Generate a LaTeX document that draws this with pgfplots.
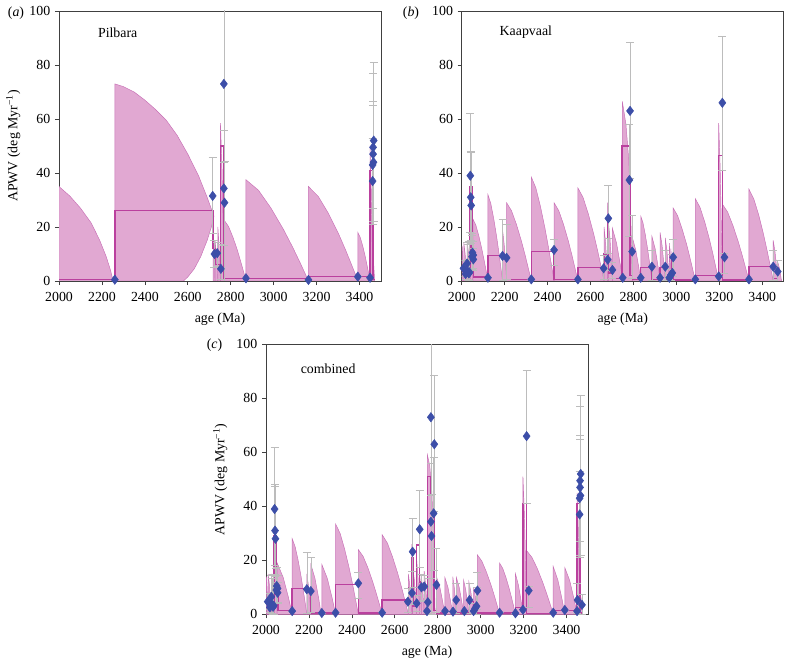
\documentclass[border=0pt]{standalone}
\usepackage{fontspec}
\setmainfont{Liberation Serif}
\usepackage{pgfplots}
\pgfplotsset{compat=1.18}
\usepackage{pgfplotstable}
\definecolor{finfill}{RGB}{225,168,210}
\definecolor{finedge}{RGB}{200,112,182}
\definecolor{stepc}{RGB}{186,64,158}
\definecolor{dia}{RGB}{60,78,168}
\definecolor{errc}{RGB}{188,188,188}
\newcommand{\fs}{\fontsize{10.4}{12.5}\selectfont}
\newcommand{\fin}[1]{\addplot[fin] coordinates {#1} \closedcycle;}
\pgfplotsset{
 panel/.style={scale only axis, width=241.5pt, height=202.5pt, anchor=south west,
  xmin=2000, xmax=3500, ymin=0, ymax=100,
  xtick={2000,2200,...,3400}, ytick={0,20,...,100},
  tick align=outside, xtick pos=left, ytick pos=left, major tick length=3pt,
  axis line style={black!75, line width=0.5pt},
  every tick/.style={black!75, line width=0.5pt},
  ticklabel style={font=\fs}, label style={font=\fs},
  xticklabel style={yshift=-2pt},
  xlabel style={yshift=-1.5pt},
  /pgf/number format/assume math mode=true, /pgf/number format/1000 sep={},
  xlabel={age (Ma)}},
 fin/.style={fill=finfill, draw=finedge, line width=0.35pt, forget plot, mark=none},
 stepl/.style={const plot, draw=stepc, line width=1.05pt, forget plot, mark=none},
 errs/.style={forget plot, draw=none, mark=none, error bars/.cd, y dir=both, y explicit,
  error bar style={draw=errc, line width=0.4pt},
  error mark options={draw=errc, rotate=90, mark size=3pt, line width=0.4pt}},
 dias/.style={forget plot, only marks, mark=diamond*, mark size=3.5pt, mark options={fill=dia, draw=dia}},
}
\pgfplotstableread{
x y ep em
2260 0.5 0 0
2716 31.5 14.5 14
2724 10 5 5
2737 10.3 4 5
2754 4.5 9 4
2768 73 30 29
2768 34.3 21.7 21
2771 29 15.5 29
2871 1 0 0
3162 0.4 0 0
3392 1.6 0 0
3449 1.2 0 0
3461 37 16 16
3461 43 10 21
3465 44 21 23
3463 47 19.5 20
3463 49.5 27.5 27.5
3466 52 29 30
}\pilbara
\pgfplotstableread{
x y ep em
2008 4.7 3 3
2018 2.6 2 2
2025 6.5 8 4
2028 3.5 10 3
2033 2.8 12 2.8
2036 3.2 5 3
2040 39 23 21
2042 31 17 16
2044 28 19.5 14
2048 9 8 5
2050 10.5 7 6
2054 9.6 5 5
2054 8 4 4
2122 1.2 0 0
2190 9.3 13.7 9
2209 8.6 12.4 8
2324 0.6 0 0
2430 11.5 4 5.5
2541 0.6 0 0
2661 4.7 5 4
2680 7.9 8 4
2683 23.2 12.3 13
2702 4.1 3 3
2750 1.2 0 0
2781 37.4 20.6 21
2784 63 25.5 25
2794 10.9 13.6 10
2834 1.2 0 0
2886 5.3 6.2 5
2924 1.2 0 0
2948 5.3 6.2 5
2967 1.2 0 0
2974 2.2 2 2
2981 3 7 3
2985 8.8 6.7 7
3088 0.6 0 0
3197 1.7 0 0
3214 66 24.5 25
3224 8.8 1.5 6
3338 0.6 0 0
3451 5.3 6.2 5
3472 3.5 4 3.5
}\kaapvaal
\begin{document}
\begin{tikzpicture}
\useasboundingbox (0,0) rectangle (588.75pt,495.75pt);
% ---------------- (a) Pilbara
\begin{axis}[panel, at={(44.25pt,285pt)}, ylabel={APWV (deg Myr\textsuperscript{−1})}]
\fin{(2000,0)(2000,35)(2050,31.5)(2100,27)(2150,21.5)(2190,15)(2220,9)(2240,4)(2252,0)}
\fin{(2260,0)(2260,73)(2300,72)(2350,70)(2400,67)(2450,63.5)(2500,59.5)(2550,54)(2600,47)(2650,39)(2690,31)(2722,24)(2710,20)(2690,15)(2660,9)(2630,4.5)(2600,1.5)(2580,0)}
\fin{(2718,0)(2718,18)(2721.6,13)(2724.75,5.9)(2726.3,2)(2727,0)}
\fin{(2727,0)(2727,15)(2732.2,10.8)(2736.75,5)(2739,1.7)(2740,0)}
\fin{(2740,0)(2740,20)(2744.8,14.4)(2749,6.6)(2751,2.2)(2752,0)}
\fin{(2752,0)(2752,58.5)(2759.2,42.1)(2765.5,19.3)(2768.6,6.4)(2770,0)}
\fin{(2770,0)(2770,22.5)(2790.2,20.1)(2810.4,16.2)(2830.6,11.5)(2845.75,7.4)(2857.9,4)(2866,1.6)(2871,0)}
\fin{(2871,0)(2871,37.5)(2929.2,33.6)(2987.4,27)(3045.6,19.1)(3089.25,12.4)(3124.2,6.6)(3147.5,2.6)(3162,0)}
\fin{(3162,0)(3162,35)(3208,31.3)(3254,25.2)(3300,17.9)(3334.5,11.6)(3362.1,6.2)(3380.5,2.5)(3392,0)}
\fin{(3392,0)(3392,18)(3403.4,16.1)(3414.8,13)(3426.2,9.2)(3434.75,5.9)(3441.6,3.2)(3446.2,1.3)(3449,0)}
\fin{(3449,0)(3449,50)(3454.2,36)(3458.75,16.5)(3461,5.5)(3462,0)}
\fin{(3462,0)(3462,10)(3466,6)(3469,2)(3470,0)}
\addplot[stepl] coordinates {(2000,0.5)(2260,26)(2718,12)(2727,6)(2752,50)(2769,1)(3162,1.6)(3449,41)(3462,0.5)(3470,0.5)};
\addplot[errs] table[x=x,y=y,y error plus=ep,y error minus=em] {\pilbara};
\addplot[dias] table[x=x,y=y] {\pilbara};
\node[anchor=west, font=\fs] at (axis cs:2160,92) {Pilbara};
\end{axis}
% ---------------- (b) Kaapvaal
\begin{axis}[panel, at={(346.3pt,285pt)}]
\fin{(2002,0)(2002,13)(2005,9.4)(2008,4.3)(2010,0)}
\fin{(2010,0)(2010,14)(2016,10)(2021,4.6)(2025,0)}
\fin{(2025,0)(2025,15)(2031,10.8)(2036,5)(2040,0)}
\fin{(2040,0)(2040,37)(2045,26.6)(2049,12)(2052,0)}
\fin{(2052,0)(2052,23)(2066,20.6)(2080,16.6)(2094,11.7)(2104.5,7.6)(2112.9,4.1)(2118.5,1.6)(2122,0)}
\fin{(2122,0)(2122,32)(2135.6,28.6)(2149.2,23)(2162.8,16.3)(2173,10.6)(2181.2,5.7)(2186.6,2.2)(2190,0)}
\fin{(2190,0)(2190,19)(2197.6,13.7)(2204.3,6.3)(2207.5,2.1)(2209,0)}
\fin{(2209,0)(2209,29)(2232,26)(2255,20.9)(2278,14.8)(2295.25,9.6)(2309,5.1)(2318.25,2)(2324,0)}
\fin{(2324,0)(2324,38.5)(2345.2,34.5)(2366.4,27.7)(2387.6,19.6)(2403.5,12.7)(2416.2,6.8)(2424.7,2.7)(2430,0)}
\fin{(2430,0)(2430,29)(2452.2,26)(2474.4,20.9)(2496.6,14.8)(2513.25,9.6)(2526.6,5.1)(2535.5,2)(2541,0)}
\fin{(2541,0)(2541,34.5)(2565.4,30.9)(2589.8,24.8)(2614.2,17.6)(2632.5,11.4)(2647.1,6.1)(2656.9,2.4)(2663,0)}
\fin{(2663,0)(2663,20)(2669.8,14.4)(2675.8,6.6)(2678.6,2.2)(2680,0)}
\fin{(2680,0)(2680,29)(2681.5,18)(2683,0)}
\fin{(2683,0)(2683,22)(2690.6,15.8)(2697.3,7.3)(2700.5,2.4)(2702,0)}
\fin{(2702,0)(2702,19.5)(2721.2,14)(2738,6.4)(2746.2,2.1)(2750,0)}
\fin{(2748,0)(2748,66.5)(2765,58)(2778,45)(2786,28)(2792,10)(2795,0)}
\fin{(2795,0)(2795,16)(2810.6,11.5)(2824.3,5.3)(2830.9,1.8)(2834,0)}
\fin{(2834,0)(2834,24)(2844.4,21.5)(2854.8,17.3)(2865.2,12.2)(2873,7.9)(2879.2,4.2)(2883.4,1.7)(2886,0)}
\fin{(2886,0)(2886,16.5)(2901.2,11.9)(2914.5,5.4)(2921,1.8)(2924,0)}
\fin{(2924,0)(2924,18)(2933.6,13)(2942,5.9)(2946.1,2)(2948,0)}
\fin{(2948,0)(2948,16)(2955.6,11.5)(2962.3,5.3)(2965.5,1.8)(2967,0)}
\fin{(2967,0)(2967,14)(2970,10)(2973,3)(2974,0)}
\fin{(2974,0)(2974,12)(2977,8.6)(2980,3)(2981,0)}
\fin{(2981,0)(2981,10)(2983,6)(2985,0)}
\fin{(2985,0)(2985,27)(3005.6,24.2)(3026.2,19.4)(3046.8,13.8)(3062.25,8.9)(3074.6,4.8)(3082.85,1.9)(3088,0)}
\fin{(3088,0)(3088,30.5)(3109.8,27.3)(3131.6,22)(3153.4,15.6)(3169.75,10.1)(3182.8,5.4)(3191.55,2.1)(3197,0)}
\fin{(3197,0)(3197,58.5)(3203.8,42.1)(3209.8,19.3)(3212.6,6.4)(3214,0)}
\fin{(3214,0)(3214,28.5)(3238.8,25.5)(3263.6,20.5)(3288.4,14.5)(3307,9.4)(3321.9,5)(3331.8,2)(3338,0)}
\fin{(3338,0)(3338,34)(3360.6,30.4)(3383.2,24.5)(3405.8,17.3)(3422.75,11.2)(3436.3,6)(3445.35,2.4)(3451,0)}
\fin{(3451,0)(3451,15)(3459.4,10.8)(3466.8,5)(3470.3,1.7)(3472,0)}
\fin{(3472,0)(3472,7)(3479,5)(3485,2.3)(3490,0)}
\addplot[stepl] coordinates {(2000,3.5)(2038,35)(2048,9)(2056,1.5)(2122,9.5)(2190,9)(2209,0.5)(2324,11)(2430,0.5)(2541,5.1)(2663,10)(2680,22)(2684,3)(2702,1)(2746,50)(2783,2)(2795,0.5)(2834,5)(2886,0.5)(2924,5)(2948,0.5)(2980,8)(2986,0.3)(3088,2)(3197,46.5)(3214,0.3)(3338,5.4)(3451,1)(3472,1)};
\addplot[errs] table[x=x,y=y,y error plus=ep,y error minus=em] {\kaapvaal};
\addplot[dias] table[x=x,y=y] {\kaapvaal};
\node[anchor=west, font=\fs] at (axis cs:2155,92) {Kaapvaal};
\end{axis}
% ---------------- (c) combined
\begin{axis}[panel, at={(199.5pt,35pt)}, ylabel={APWV (deg Myr\textsuperscript{−1})}]
\fin{(2002,0)(2002,14)(2005,10)(2008,4.6)(2010,0)}
\fin{(2010,0)(2010,15)(2016,10.8)(2021,5)(2025,0)}
\fin{(2025,0)(2025,15)(2031,10.8)(2036,5)(2040,0)}
\fin{(2040,0)(2040,35)(2045,25.2)(2049,11.6)(2052,0)}
\fin{(2052,0)(2052,19)(2080,13.7)(2104.5,6.3)(2116.4,2.1)(2122,0)}
\fin{(2122,0)(2122,28)(2135.6,25.1)(2149.2,20.2)(2162.8,14.3)(2173,9.2)(2181.2,5)(2186.6,2)(2190,0)}
\fin{(2190,0)(2190,15)(2197.6,10.8)(2204.3,5)(2207.5,1.7)(2209,0)}
\fin{(2209,0)(2209,18.5)(2228.2,13.3)(2245,6.1)(2253.2,2)(2257,0)}
\fin{(2260,0)(2260,18.5)(2285.6,13.3)(2308,6.1)(2318.9,2)(2324,0)}
\fin{(2324,0)(2324,33.5)(2345.2,30)(2366.4,24.1)(2387.6,17.1)(2403.5,11.1)(2416.2,5.9)(2424.7,2.3)(2430,0)}
\fin{(2430,0)(2430,24)(2452.2,21.5)(2474.4,17.3)(2496.6,12.2)(2513.25,7.9)(2526.6,4.2)(2535.5,1.7)(2541,0)}
\fin{(2541,0)(2541,29.5)(2565.4,26.4)(2589.8,21.2)(2614.2,15)(2632.5,9.7)(2647.1,5.2)(2656.9,2.1)(2663,0)}
\fin{(2663,0)(2663,15)(2669.8,10.8)(2675.8,5)(2678.6,1.7)(2680,0)}
\fin{(2680,0)(2680,26)(2681.5,16)(2683,0)}
\fin{(2683,0)(2683,18)(2690.6,13)(2697.3,5.9)(2700.5,2)(2702,0)}
\fin{(2702,0)(2702,20)(2707.6,14.4)(2712.5,6.6)(2714.9,2.2)(2716,0)}
\fin{(2716,0)(2716,15)(2719.2,10.8)(2722,5)(2724,0)}
\fin{(2724,0)(2724,14)(2729.2,10)(2733.75,4.6)(2737,0)}
\fin{(2737,0)(2737,16)(2743,11.5)(2748.25,5.3)(2752,0)}
\fin{(2752,0)(2752,59)(2763,55)(2773,45)(2780,30)(2785,10)(2788,0)}
\fin{(2794,0)(2794,14)(2809.6,10.1)(2823.3,4.6)(2829.9,1.5)(2833,0)}
\fin{(2833,0)(2833,13.7)(2847.8,9.9)(2860.75,4.5)(2867,1.5)(2870,0)}
\fin{(2870,0)(2870,14)(2876.8,10.1)(2882.75,4.6)(2885.6,1.5)(2887,0)}
\fin{(2887,0)(2887,13.6)(2900.6,9.8)(2912.5,4.5)(2918.3,1.5)(2921,0)}
\fin{(2921,0)(2921,12.5)(2930.6,9)(2939,4.1)(2943.1,1.4)(2945,0)}
\fin{(2945,0)(2945,12)(2953.8,8.6)(2961.5,4)(2965.2,1.3)(2967,0)}
\fin{(2967,0)(2967,10)(2974,7.2)(2980.5,3.3)(2985,0)}
\fin{(2985,0)(2985,22)(3005.6,19.7)(3026.2,15.8)(3046.8,11.2)(3062.25,7.3)(3074.6,3.9)(3082.85,1.5)(3088,0)}
\fin{(3088,0)(3088,19)(3102.8,17)(3117.6,13.7)(3132.4,9.7)(3143.5,6.3)(3152.4,3.4)(3158.3,1.3)(3162,0)}
\fin{(3162,0)(3162,15)(3176,10.8)(3188.3,5)(3194.2,1.7)(3197,0)}
\fin{(3197,0)(3197,51)(3203.8,36.7)(3209.8,16.8)(3212.6,5.6)(3214,0)}
\fin{(3214,0)(3214,23.6)(3238.8,21.1)(3263.6,17)(3288.4,12)(3307,7.8)(3321.9,4.2)(3331.8,1.7)(3338,0)}
\fin{(3338,0)(3338,17.7)(3359.6,12.7)(3378.5,5.8)(3387.7,1.9)(3392,0)}
\fin{(3392,0)(3392,17.3)(3414.8,12.5)(3434.75,5.7)(3444.4,1.9)(3449,0)}
\fin{(3449,0)(3449,45)(3454.6,32.4)(3459.5,14.9)(3463,0)}
\fin{(3463,0)(3463,8)(3468,5.8)(3472,2.6)(3475,0)}
\addplot[stepl] coordinates {(2000,4)(2038,29)(2048,8)(2056,1.5)(2122,9.5)(2190,9)(2209,0.5)(2324,11)(2430,0.5)(2541,5.3)(2663,10)(2680,21)(2684,3)(2702,25.7)(2716,12)(2725,5)(2752,51)(2768,44)(2782,1.5)(2795,0.5)(2834,1)(2871,1)(2886,0.5)(2948,4.7)(2967,0.5)(2980,8)(2986,0.5)(3162,2.5)(3197,41)(3214,0.3)(3338,1.4)(3449,41)(3463,0.5)(3472,0.5)};
\addplot[errs] table[x=x,y=y,y error plus=ep,y error minus=em] {\pilbara};
\addplot[errs] table[x=x,y=y,y error plus=ep,y error minus=em] {\kaapvaal};
\addplot[dias] table[x=x,y=y] {\pilbara};
\addplot[dias] table[x=x,y=y] {\kaapvaal};
\node[anchor=west, font=\fs] at (axis cs:2140,91) {combined};
\end{axis}
\node[font=\fs] at (12pt,486pt) {(\textit{a})};
\node[font=\fs] at (308.25pt,486pt) {(\textit{b})};
\node[font=\fs] at (160.9pt,237pt) {(\textit{c})};
\end{tikzpicture}
\end{document}
